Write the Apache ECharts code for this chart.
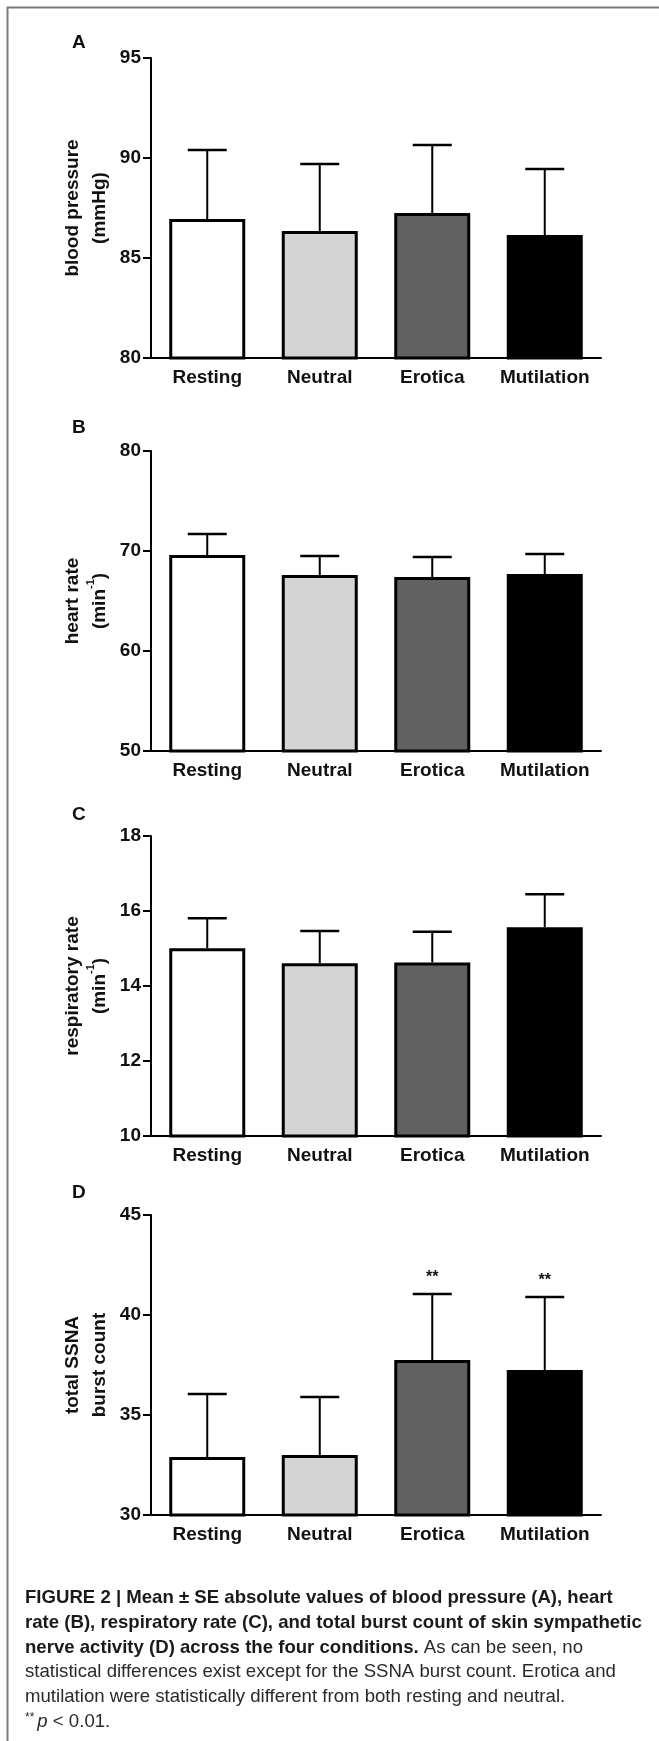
<!DOCTYPE html>
<html>
<head>
<meta charset="utf-8">
<script src="https://cdn.jsdelivr.net/npm/echarts@6/dist/echarts.min.js"></script>
<style>
html,body{margin:0;padding:0;background:#fff;}
#chart{width:659px;height:1741px;}
</style>
</head>
<body>
<div id="chart"></div>
<script>
// ---- data ----
const categories = ['Resting', 'Neutral', 'Erotica', 'Mutilation'];

const bpMean = [86.95, 86.35, 87.25, 86.15];
const bpSE   = [3.45, 3.35, 3.40, 3.30];

const hrMean = [69.6, 67.6, 67.4, 67.7];
const hrSE   = [2.1, 1.9, 2.0, 2.0];

const rrMean = [15.01, 14.61, 14.63, 15.57];
const rrSE   = [0.80, 0.86, 0.82, 0.88];

const ssnaMean = [32.9, 33.0, 37.75, 37.25];
const ssnaSE   = [3.15, 2.9, 3.3, 3.65];
const ssnaSig  = ['', '', '**', '**'];

const bpTicks   = {min: 80, max: 95, interval: 5};
const hrTicks   = {min: 50, max: 80, interval: 10};
const rrTicks   = {min: 10, max: 18, interval: 2};
const ssnaTicks = {min: 30, max: 45, interval: 5};

// ---- styles ----
const fills = ['#ffffff', '#d4d4d4', '#616161', '#000000'];
const FONT = 'Liberation Sans, Arial, sans-serif';
const tops = [58, 451, 836, 1215];
const letterY = [43, 428, 815, 1193];

const panels = [
  {letter: 'A', mean: bpMean, se: bpSE, sig: null, ticks: bpTicks,
   name: '{a|blood pressure}\n{a|(mmHg)}'},
  {letter: 'B', mean: hrMean, se: hrSE, sig: null, ticks: hrTicks,
   name: '{a|heart rate}\n{a|(min}{s|-1}{a|)}'},
  {letter: 'C', mean: rrMean, se: rrSE, sig: null, ticks: rrTicks,
   name: '{a|respiratory rate}\n{a|(min}{s|-1}{a|)}'},
  {letter: 'D', mean: ssnaMean, se: ssnaSE, sig: ssnaSig, ticks: ssnaTicks,
   name: '{a|total SSNA}\n{a|burst count}'}
];

const grids = [], xAxes = [], yAxes = [], series = [], graphics = [];

panels.forEach((p, k) => {
  grids.push({left: 151, right: 58, top: tops[k], height: 300, containLabel: false});
  xAxes.push({
    type: 'category', gridIndex: k, data: categories,
    axisLine: {lineStyle: {color: '#000', width: 2}},
    axisTick: {alignWithLabel: true, length: 7, lineStyle: {color: '#000', width: 2}},
    axisLabel: {interval: 0, color: '#111', fontFamily: FONT, fontWeight: 'bold', fontSize: 19, margin: 10},
    splitLine: {show: false}
  });
  yAxes.push({
    type: 'value', gridIndex: k,
    min: p.ticks.min, max: p.ticks.max, interval: p.ticks.interval,
    axisLine: {show: true, lineStyle: {color: '#000', width: 2}},
    axisTick: {show: true, length: 8, lineStyle: {color: '#000', width: 2}},
    axisLabel: {color: '#111', fontFamily: FONT, fontWeight: 'bold', fontSize: 19, margin: 10},
    splitLine: {show: false},
    name: p.name, nameLocation: 'middle', nameRotate: 90, nameGap: 38,
    nameTextStyle: {
      rich: {
        a: {fontFamily: FONT, fontWeight: 'bold', fontSize: 19, color: '#111', lineHeight: 27},
        s: {fontFamily: FONT, fontWeight: 'bold', fontSize: 11, color: '#111', verticalAlign: 'top', lineHeight: 27, padding: [0, 0, 10, 0]}
      }
    }
  });
  series.push({
    type: 'bar', xAxisIndex: k, yAxisIndex: k,
    barWidth: 76, clip: true,
    data: p.mean.map((v, i) => ({value: v, itemStyle: {color: fills[i]}})),
    itemStyle: {borderColor: '#000', borderWidth: 3},
    emphasis: {disabled: true},
    z: 2
  });
  const sig = p.sig;
  series.push({
    type: 'custom', xAxisIndex: k, yAxisIndex: k,
    data: p.mean.map((v, i) => [i, v, p.se[i]]),
    z: 5,
    renderItem: function (params, api) {
      const x = api.value(0), m = api.value(1), e = api.value(2);
      const p0 = api.coord([x, m]);
      const p1 = api.coord([x, m + e]);
      const half = 19.5;
      const children = [
        {type: 'line', shape: {x1: p0[0], y1: p0[1], x2: p1[0], y2: p1[1]},
         style: {stroke: '#000', lineWidth: 2}},
        {type: 'line', shape: {x1: p1[0] - half, y1: p1[1], x2: p1[0] + half, y2: p1[1]},
         style: {stroke: '#000', lineWidth: 2.5}}
      ];
      if (sig && sig[params.dataIndex]) {
        children.push({type: 'text', x: p1[0], y: p1[1] - 16,
          style: {text: sig[params.dataIndex], align: 'center', verticalAlign: 'middle',
                  fontFamily: FONT, fontWeight: 'bold', fontSize: 16, fill: '#111'}});
      }
      return {type: 'group', children: children};
    }
  });
  graphics.push({type: 'text', x: 72, y: letterY[k],
    style: {text: p.letter, fontFamily: FONT, fontWeight: 'bold', fontSize: 19, fill: '#111', verticalAlign: 'middle'}});
});

// frame
graphics.push({type: 'polyline', shape: {points: [[7.5, 1741], [7.5, 7.5], [659, 7.5]]},
  style: {stroke: '#7a7a7a', lineWidth: 2, fill: null}});

// caption
const captionLines = [
  '{b|FIGURE 2 | Mean ± SE absolute values of blood pressure (A), heart}',
  '{b|rate (B), respiratory rate (C), and total burst count of skin sympathetic}',
  '{b|nerve activity (D) across the four conditions.}{r| As can be seen, no}',
  '{r|statistical differences exist except for the SSNA burst count. Erotica and}',
  '{r|mutilation were statistically different from both resting and neutral.}',
  '{sup|**}{i|p}{r| < 0.01.}'
];
const capRich = {
  b: {fontFamily: FONT, fontWeight: 'bold', fontSize: 18.6, fill: '#1a1a1a', color: '#1a1a1a'},
  r: {fontFamily: FONT, fontSize: 18.6, fill: '#2a2a2a', color: '#2a2a2a'},
  i: {fontFamily: FONT, fontStyle: 'italic', fontSize: 18.6, fill: '#2a2a2a', color: '#2a2a2a'},
  sup: {fontFamily: FONT, fontSize: 12, fill: '#2a2a2a', color: '#2a2a2a', verticalAlign: 'top', padding: [0, 3, 6, 0]}
};
captionLines.forEach((t, j) => {
  graphics.push({type: 'text', x: 25, y: 1598 + 24.7 * j,
    style: {text: t, rich: capRich, verticalAlign: 'middle'}});
});

const chart = echarts.init(document.getElementById('chart'), null, {renderer: 'canvas'});
chart.setOption({
  animation: false,
  backgroundColor: '#fff',
  grid: grids, xAxis: xAxes, yAxis: yAxes, series: series,
  graphic: graphics
});
</script>
</body>
</html>
